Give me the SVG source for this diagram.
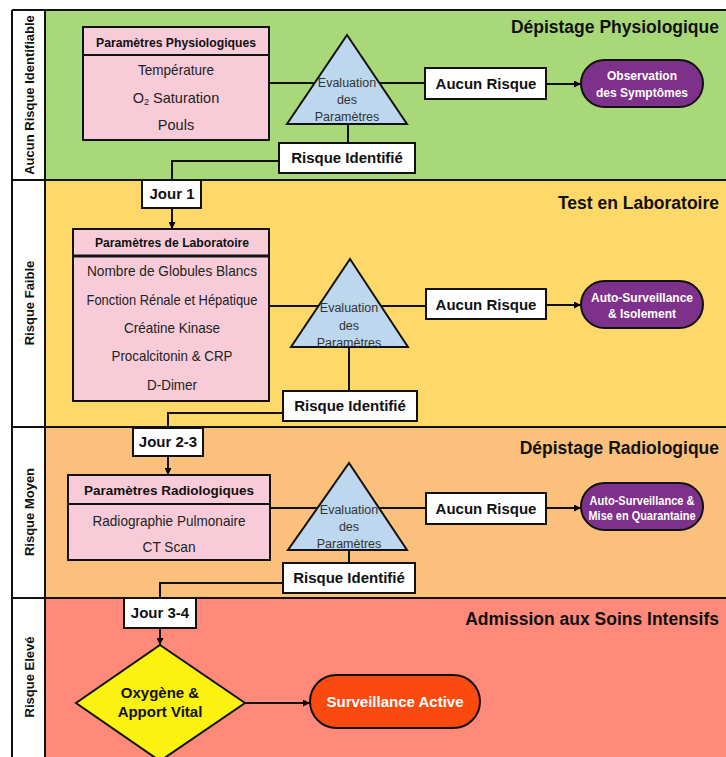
<svg xmlns="http://www.w3.org/2000/svg" width="726" height="757" viewBox="0 0 726 757">
<defs>
<marker id="arr" viewBox="0 0 10 10" refX="10" refY="5" markerWidth="7" markerHeight="7" markerUnits="userSpaceOnUse" orient="auto">
<path d="M0,0 L10,5 L0,10 z" fill="#000"/>
</marker>
<style>
text{font-family:"Liberation Sans",Arial,sans-serif;fill:#111}
.lane{font-size:13px;font-weight:bold;text-anchor:middle}
.title{font-size:17.5px;font-weight:bold;text-anchor:end}
.box{fill:#fff;stroke:#111;stroke-width:2}
.pink{fill:#F7CCD8;stroke:#111;stroke-width:2}
.hdr{font-size:12.5px;font-weight:bold;text-anchor:middle}
.item{font-size:14.5px;text-anchor:middle;fill:#222}
.lbl{font-size:15px;font-weight:bold;text-anchor:middle}
.tri{fill:#BDD7EE;stroke:#111;stroke-width:2}
.ev{font-size:12.5px;text-anchor:middle;fill:#333}
.pill{fill:#7D318A;stroke:#111;stroke-width:2}
.pt{font-size:12px;font-weight:bold;text-anchor:middle;fill:#fff}
.conn{fill:none;stroke:#111;stroke-width:2}
</style>
</defs>
<g id="bands">
<rect x="12" y="10" width="720" height="170" fill="#A9D879"/>
<rect x="12" y="180" width="720" height="247" fill="#FED96A"/>
<rect x="12" y="427" width="720" height="171" fill="#FBC07B"/>
<rect x="12" y="598" width="720" height="165" fill="#FF8A7A"/>
<rect x="12" y="10" width="33" height="755" fill="#fff"/>
<path d="M12,10 H730 M12,10 V757 M45,10 V757 M12,180 H730 M12,427 H730 M12,598 H730" fill="none" stroke="#111" stroke-width="2"/>
<text class="lane" transform="translate(34,95) rotate(-90)">Aucun Risque Identifiable</text>
<text class="lane" transform="translate(34,303) rotate(-90)">Risque Faible</text>
<text class="lane" transform="translate(34,512) rotate(-90)">Risque Moyen</text>
<text class="lane" transform="translate(34,677) rotate(-90)">Risque Elevé</text>
<text class="title" x="719" y="33">Dépistage Physiologique</text>
<text class="title" x="719" y="209">Test en Laboratoire</text>
<text class="title" x="719" y="454">Dépistage Radiologique</text>
<text class="title" x="719" y="625">Admission aux Soins Intensifs</text>
</g>
<g id="connectors">
<path class="conn" d="M269,83 H425"/>
<path class="conn" d="M546,84 H581" marker-end="url(#arr)"/>
<path class="conn" d="M348,124 V143"/>
<path class="conn" d="M279,161 H172 V180"/>
<path class="conn" d="M172,208 V229" marker-end="url(#arr)"/>
<path class="conn" d="M269,306 H426"/>
<path class="conn" d="M546,305 H581" marker-end="url(#arr)"/>
<path class="conn" d="M349,347 V391"/>
<path class="conn" d="M283,413 H168 V428"/>
<path class="conn" d="M168,456 V475" marker-end="url(#arr)"/>
<path class="conn" d="M270,508 H426"/>
<path class="conn" d="M546,508 H581" marker-end="url(#arr)"/>
<path class="conn" d="M349,550 V563"/>
<path class="conn" d="M283,583 H160 V598"/>
<path class="conn" d="M160,628 V645" marker-end="url(#arr)"/>
<path class="conn" d="M245,703 H310" marker-end="url(#arr)"/>
</g>
<g id="physio-params">
<rect class="pink" x="83" y="27" width="186" height="113"/>
<line x1="83" y1="55" x2="269" y2="55" stroke="#111" stroke-width="2"/>
<text class="hdr" x="176" y="47" textLength="160" lengthAdjust="spacingAndGlyphs">Paramètres Physiologiques</text>
<text class="item" x="176" y="75" textLength="76" lengthAdjust="spacingAndGlyphs">Température</text>
<text class="item" x="176" y="103">O<tspan font-size="9" dy="2">2</tspan><tspan dy="-2"> Saturation</tspan></text>
<text class="item" x="176" y="130">Pouls</text>
</g>
<g id="eval-1">
<polygon class="tri" points="347,35 407,124 287,124"/>
<text class="ev" x="347" y="87">Evaluation</text>
<text class="ev" x="347" y="104">des</text>
<text class="ev" x="347" y="121">Paramètres</text>
</g>
<g id="aucun-1">
<rect class="box" x="425" y="68" width="121" height="31"/>
<text class="lbl" x="486" y="89">Aucun Risque</text>
</g>
<g id="observation">
<rect class="pill" x="581" y="60" width="122" height="47" rx="23.5"/>
<text class="pt" x="642" y="80">Observation</text>
<text class="pt" x="642" y="97">des Symptômes</text>
</g>
<g id="risque-1">
<rect class="box" x="279" y="143" width="136" height="30"/>
<text class="lbl" x="347" y="163">Risque Identifié</text>
</g>
<g id="jour-1">
<rect class="box" x="142" y="180" width="59" height="28"/>
<text class="lbl" x="172" y="199" font-size="14">Jour 1</text>
</g>
<g id="labo-params">
<rect class="pink" x="73" y="229" width="196" height="172"/>
<line x1="73" y1="256" x2="269" y2="256" stroke="#111" stroke-width="3"/>
<text class="hdr" x="172" y="247" textLength="154" lengthAdjust="spacingAndGlyphs">Paramètres de Laboratoire</text>
<text class="item" x="172" y="276" textLength="170" lengthAdjust="spacingAndGlyphs">Nombre de Globules Blancs</text>
<text class="item" x="172" y="305" textLength="171" lengthAdjust="spacingAndGlyphs">Fonction Rénale et Hépatique</text>
<text class="item" x="172" y="333" textLength="96" lengthAdjust="spacingAndGlyphs">Créatine Kinase</text>
<text class="item" x="172" y="361" textLength="121" lengthAdjust="spacingAndGlyphs">Procalcitonin &amp; CRP</text>
<text class="item" x="172" y="390" textLength="50" lengthAdjust="spacingAndGlyphs">D-Dimer</text>
</g>
<g id="eval-2">
<polygon class="tri" points="350,259 408,347 291,347"/>
<text class="ev" x="349" y="312">Evaluation</text>
<text class="ev" x="349" y="330">des</text>
<text class="ev" x="349" y="347">Paramètres</text>
</g>
<g id="aucun-2">
<rect class="box" x="426" y="289" width="120" height="30"/>
<text class="lbl" x="486" y="310">Aucun Risque</text>
</g>
<g id="isolement">
<rect class="pill" x="581" y="281" width="122" height="47" rx="23.5"/>
<text class="pt" x="642" y="302">Auto-Surveillance</text>
<text class="pt" x="642" y="318">&amp; Isolement</text>
</g>
<g id="risque-2">
<rect class="box" x="283" y="391" width="134" height="30"/>
<text class="lbl" x="350" y="411">Risque Identifié</text>
</g>
<g id="jour-2-3">
<rect class="box" x="133" y="428" width="70" height="28"/>
<text class="lbl" x="168" y="447" font-size="14">Jour 2-3</text>
</g>
<g id="radio-params">
<rect class="pink" x="68" y="475" width="202" height="85"/>
<line x1="68" y1="504" x2="270" y2="504" stroke="#111" stroke-width="2"/>
<text class="hdr" x="169" y="495" font-size="14" textLength="170" lengthAdjust="spacingAndGlyphs">Paramètres Radiologiques</text>
<text class="item" x="169" y="526" textLength="153" lengthAdjust="spacingAndGlyphs">Radiographie Pulmonaire</text>
<text class="item" x="169" y="552" textLength="53" lengthAdjust="spacingAndGlyphs">CT Scan</text>
</g>
<g id="eval-3">
<polygon class="tri" points="349,463 407,550 288,550"/>
<text class="ev" x="349" y="514">Evaluation</text>
<text class="ev" x="349" y="531">des</text>
<text class="ev" x="349" y="548">Paramètres</text>
</g>
<g id="aucun-3">
<rect class="box" x="426" y="493" width="120" height="31"/>
<text class="lbl" x="486" y="514">Aucun Risque</text>
</g>
<g id="quarantaine">
<rect class="pill" x="581" y="483" width="122" height="47" rx="23.5"/>
<text class="pt" x="642" y="505" textLength="105" lengthAdjust="spacingAndGlyphs">Auto-Surveillance &amp;</text>
<text class="pt" x="642" y="520" textLength="107" lengthAdjust="spacingAndGlyphs">Mise en Quarantaine</text>
</g>
<g id="risque-3">
<rect class="box" x="283" y="563" width="132" height="30"/>
<text class="lbl" x="349" y="583">Risque Identifié</text>
</g>
<g id="jour-3-4">
<rect class="box" x="124" y="598" width="72" height="30"/>
<text class="lbl" x="160" y="618" font-size="14">Jour 3-4</text>
</g>
<g id="oxygene">
<polygon points="160,645 245,703 160,761 76,703" fill="#FBF20F" stroke="#111" stroke-width="2"/>
<text class="lbl" x="160" y="698">Oxygène &amp;</text>
<text class="lbl" x="160" y="717">Apport Vital</text>
</g>
<g id="surveillance-active">
<rect x="310" y="675" width="170" height="53" rx="26.5" fill="#FA4A10" stroke="#111" stroke-width="2"/>
<text class="lbl" x="395" y="707" style="fill:#fff">Surveillance Active</text>
</g>
</svg>
